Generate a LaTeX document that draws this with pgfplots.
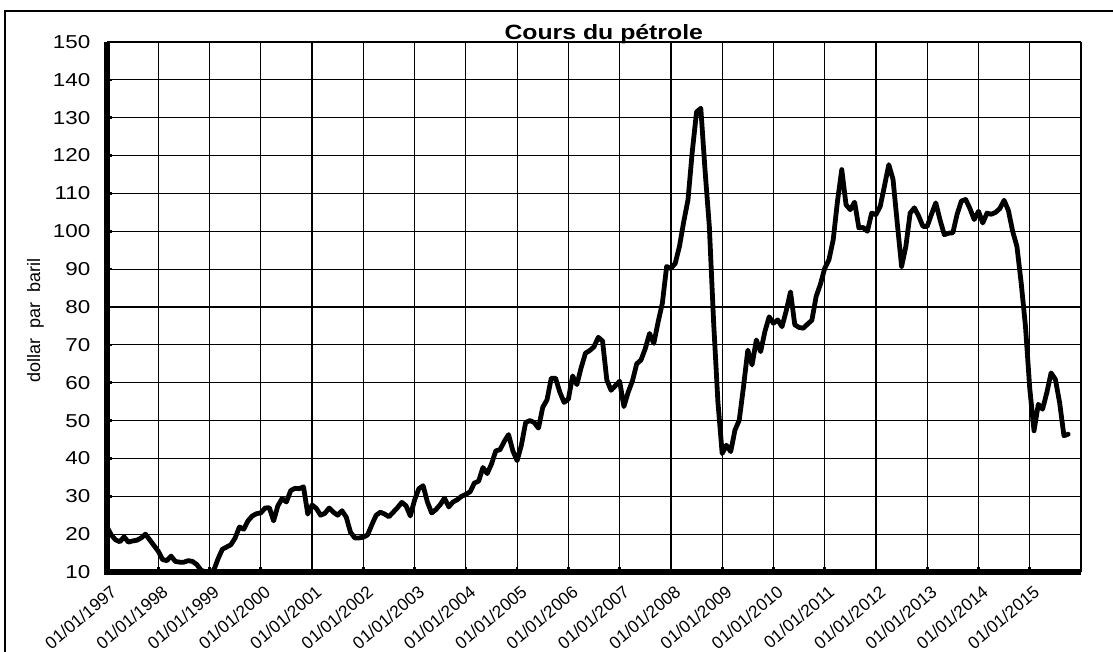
\documentclass[border=0pt]{standalone}
\usepackage{pgfplots}
\pgfplotsset{compat=1.18}
\usepackage{pgfplotstable}
\usepackage{fontspec}
\setmainfont{Liberation Sans}[FakeStretch=1.2]
\newfontfamily\ylabfont{Liberation Sans}
\pgfplotstableread{
m v
0 21.9
1 19.8
2 18.5
3 18.0
4 19.3
5 17.9
6 18.2
7 18.4
8 19.0
9 20.0
10 18.5
11 17.0
12 15.5
13 13.3
14 13.0
15 14.2
16 12.8
17 12.6
18 12.6
19 13.0
20 12.8
21 12.0
22 10.5
23 10.0
24 10.0
25 10.5
26 13.5
27 16.0
28 16.6
29 17.2
30 19.0
31 21.9
32 21.3
33 23.5
34 24.8
35 25.4
36 25.6
37 26.9
38 27.0
39 23.5
40 27.5
41 29.4
42 28.5
43 31.5
44 32.1
45 32.0
46 32.5
47 25.3
48 27.7
49 26.8
50 25.0
51 25.5
52 26.9
53 25.8
54 25.0
55 26.2
56 24.5
57 20.5
58 19.0
59 19.0
60 19.2
61 19.8
62 22.5
63 25.0
64 25.8
65 25.3
66 24.6
67 25.8
68 27.0
69 28.4
70 27.5
71 24.8
72 29.0
73 32.0
74 32.8
75 28.5
76 25.6
77 26.5
78 27.8
79 29.5
80 27.2
81 28.5
82 29.1
83 30.0
84 30.5
85 31.2
86 33.5
87 34.0
88 37.6
89 36.0
90 38.5
91 42.0
92 42.3
93 44.5
94 46.3
95 42.0
96 39.4
97 43.5
98 49.5
99 50.0
100 49.5
101 48.0
102 53.5
103 55.5
104 61.2
105 61.2
106 57.5
107 54.8
108 55.7
109 61.8
110 59.5
111 64.0
112 67.8
113 68.5
114 69.5
115 72.0
116 71.0
117 60.7
118 58.0
119 59.2
120 60.4
121 53.7
122 57.5
123 60.5
124 65.0
125 66.0
126 69.0
127 73.0
128 70.4
129 76.0
130 81.0
131 90.7
132 90.2
133 91.5
134 96.0
135 102.5
136 108.3
137 121.0
138 131.5
139 132.5
140 116.0
141 101.2
142 76.0
143 55.0
144 41.3
145 43.5
146 41.8
147 47.5
148 50.1
149 59.0
150 68.6
151 64.7
152 71.3
153 68.2
154 73.5
155 77.4
156 75.7
157 76.6
158 74.8
159 79.0
160 84.0
161 75.3
162 74.6
163 74.4
164 75.5
165 76.5
166 82.8
167 86.0
168 90.2
169 92.5
170 97.8
171 108.0
172 116.3
173 107.0
174 105.7
175 107.7
176 100.9
177 101.0
178 100.0
179 104.8
180 104.4
181 106.6
182 112.0
183 117.6
184 113.7
185 102.0
186 90.7
187 96.0
188 104.8
189 106.2
190 104.0
191 101.3
192 101.3
193 104.5
194 107.5
195 103.0
196 99.1
197 99.5
198 99.6
199 104.5
200 108.0
201 108.4
202 106.0
203 103.1
204 105.3
205 102.2
206 104.8
207 104.5
208 105.0
209 106.0
210 108.2
211 105.5
212 100.0
213 96.0
214 86.3
215 74.9
216 58.5
217 47.3
218 54.3
219 53.0
220 57.4
221 62.6
222 60.9
223 54.7
224 46.0
225 46.4
}\oil
\begin{document}
\begin{tikzpicture}
\useasboundingbox (0pt,0pt) rectangle (834.75pt,488.25pt);
\draw[line width=1.5pt] (3.75pt,-30pt) rectangle (870pt,480pt);
\begin{axis}[
  at={(80.25pt,59.25pt)}, anchor=south west,
  scale only axis, width=730.5pt, height=397.5pt,
  xmin=0, xmax=228, ymin=10, ymax=150,
  clip=false,
  axis line style={draw=none},
  grid=major,
  major grid style={line width=0.9pt, black},
  xtick={0,12,...,216},
  xticklabels={01/01/1997,01/01/1998,01/01/1999,01/01/2000,01/01/2001,01/01/2002,01/01/2003,01/01/2004,01/01/2005,01/01/2006,01/01/2007,01/01/2008,01/01/2009,01/01/2010,01/01/2011,01/01/2012,01/01/2013,01/01/2014,01/01/2015},
  ytick={10,20,30,40,50,60,70,80,90,100,110,120,130,140,150},
  yticklabels={10,20,30,40,50,60,70,80,90,100,110,120,130,140,150},
  xtick pos=left, ytick pos=left,
  tick align=inside,
  major tick length=4pt,
  tick style={line width=2pt, black},
  /pgf/number format/assume math mode=true,
  yticklabel style={font=\fontsize{14}{15}\selectfont, xshift=-9pt},
  xticklabel style={font=\ylabfont\fontsize{13}{14}\selectfont, xshift=2.5pt, yshift=-4.5pt, rotate=40, anchor=north east},
  ylabel={dollar\ \ par\ \ baril},
  ylabel style={font=\ylabfont\fontsize{13.5}{14}\selectfont, at={(axis description cs:-0.0735,0.475)}, anchor=center},
  title={Cours du pétrole},
  title style={font=\bfseries\fontsize{15.5}{16}\selectfont, at={(axis description cs:0.51,1)}, anchor=base, yshift=-4.5pt},
]
\addplot[black, line width=3.6pt, line join=round, line cap=round] table[x=m, y=v] {\oil};
\draw[line width=1.3pt] (rel axis cs:0,1) -- (rel axis cs:1,1);
\draw[line width=2pt] (rel axis cs:1,0) -- (rel axis cs:1,1);
\draw[line width=4pt] (rel axis cs:0,1) -- (rel axis cs:0,0) -- (rel axis cs:1,0);
\end{axis}
\end{tikzpicture}
\end{document}
